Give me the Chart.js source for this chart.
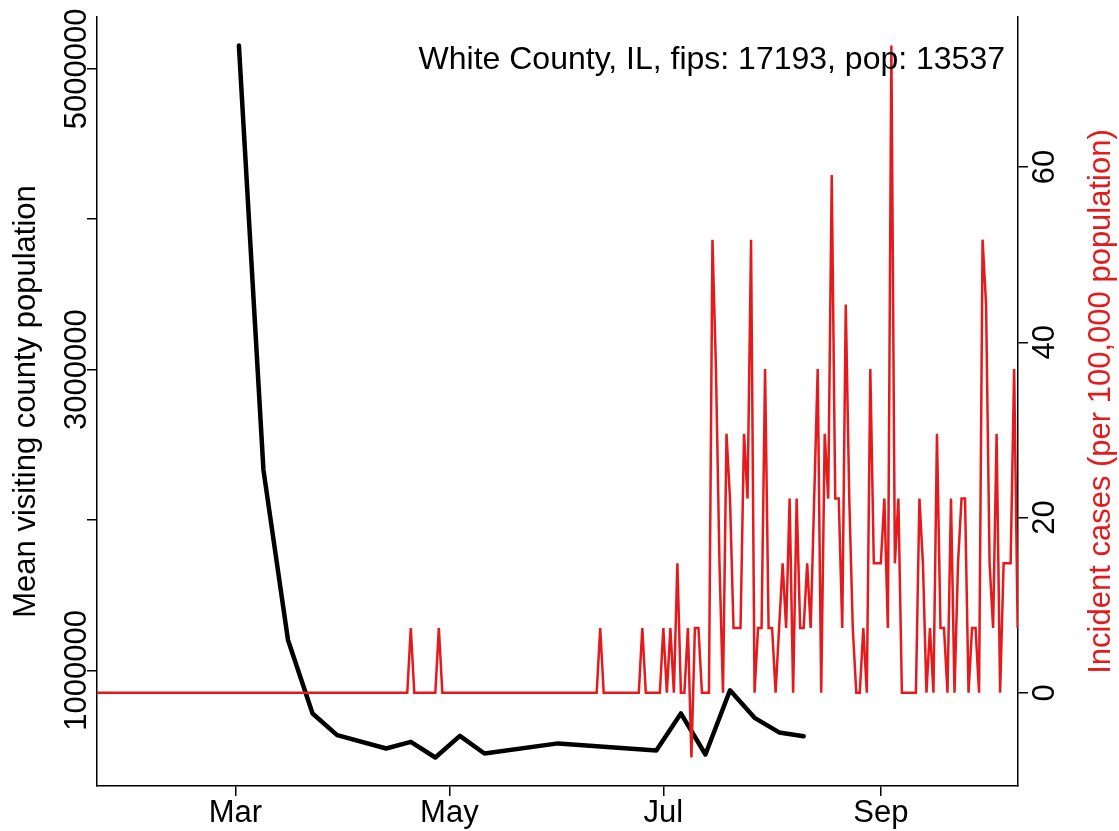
<!DOCTYPE html>
<html>
<head>
<meta charset="utf-8">
<script src="https://cdn.jsdelivr.net/npm/chart.js@4/dist/chart.umd.min.js"></script>
<style>
  html, body { margin: 0; padding: 0; background: #fff; }
  #wrap { width: 1119px; height: 831px; }
</style>
</head>
<body>
<div id="wrap"><canvas id="chart" width="1119" height="831"></canvas></div>
<script>
// county info
const countyTitle = 'White County, IL, fips: 17193, pop: 13537';
const countyPop = 13537;

// weekly mean visiting county population (day of year 2020)
const mobilityDays = [61, 68, 75, 82, 89, 103, 110, 117, 124, 131, 152, 180, 187, 194, 201, 208, 215, 222];
const mobilityValues = [5155000, 2332000, 1201000, 713000, 569000, 480000, 524000, 420000, 564000,
  447000, 514000, 467000, 713000, 440000, 867000, 684000, 587000, 562000];

// daily new cases, one value per day starting at caseStartDay
const caseStartDay = 20;
const dailyCases = [
  0,0,0,0,0,0,0,0,0,0, 0,0,0,0,0,0,0,0,0,0,   // 20-39
  0,0,0,0,0,0,0,0,0,0, 0,0,0,0,0,0,0,0,0,0,   // 40-59
  0,0,0,0,0,0,0,0,0,0, 0,0,0,0,0,0,0,0,0,0,   // 60-79
  0,0,0,0,0,0,0,0,0,0, 0,0,0,0,0,0,0,0,0,0,   // 80-99
  0,0,0,0,0,0,0,0,0,0, 1,0,0,0,0,0,0,0,1,0,   // 100-119
  0,0,0,0,0,0,0,0,0,0, 0,0,0,0,0,0,0,0,0,0,   // 120-139
  0,0,0,0,0,0,0,0,0,0, 0,0,0,0,0,0,0,0,0,0,   // 140-159
  0,0,0,0,1,0,0,0,0,0, 0,0,0,0,0,0,1,0,0,0,   // 160-179
  0,0,1,0,1,0,2,0,0,1, -1,1,1,0,0,0,7,5,2,0,  // 180-199
  4,3,1,1,1,4,3,7,0,1, 1,5,1,1,0,1,2,1,3,0,   // 200-219
  3,1,1,2,1,3,5,0,4,3, 8,3,3,1,6,3,1,0,0,1,   // 220-239
  0,5,2,2,2,3,1,10,2,3, 0,0,0,0,0,3,2,0,1,0,  // 240-259
  4,1,1,0,3,0,2,3,3,0, 1,1,0,7,6,2,1,4,0,2,   // 260-279
  2,2,5,1                                     // 280-283
];

// axes
const xMin = 20.55, xMax = 283.1;
const monthTickDays = [60, 121, 182, 244];
const monthTickLabels = ['Mar', 'May', 'Jul', 'Sep'];
const leftTicks = [1000000, 2000000, 3000000, 4000000, 5000000];
const leftTickLabels = ['1000000', '', '3000000', '', '5000000'];
const rightTicks = [0, 20, 40, 60];
const rightTickLabels = ['0', '20', '40', '60'];
const leftTitle = 'Mean visiting county population';
const rightTitle = 'Incident cases (per 100,000 population)';

const RED = '#E41A1C';
const FONT = '31px "Liberation Sans", Arial, Helvetica, sans-serif';
const TITLE_FONT = '32px "Liberation Sans", Arial, Helvetica, sans-serif';

const incidence = dailyCases.map(c => c * 100000 / countyPop);
const casePoints = incidence.map((v, i) => ({ x: caseStartDay + i, y: v }));
const mobilityPoints = mobilityDays.map((d, i) => ({ x: d, y: mobilityValues[i] }));

// R style 4% padding
function padRange(vals) {
  const lo = Math.min(...vals), hi = Math.max(...vals), d = (hi - lo) * 0.04;
  return [lo - d, hi + d];
}
const leftRange = padRange(mobilityValues);
const rightRange = padRange(incidence);

const textPlugin = {
  id: 'rtext',
  afterDraw(chart) {
    const ctx = chart.ctx;
    const xs = chart.scales.x, yl = chart.scales.yL, yr = chart.scales.yR;
    ctx.save();
    ctx.font = FONT;
    ctx.fillStyle = '#000';
    // x tick labels
    ctx.textAlign = 'center';
    ctx.textBaseline = 'alphabetic';
    monthTickDays.forEach((d, i) => ctx.fillText(monthTickLabels[i], xs.getPixelForValue(d), 822));
    // title
    ctx.font = TITLE_FONT;
    ctx.textAlign = 'right';
    ctx.fillText(countyTitle, 1005, 69);
    ctx.font = FONT;
    // rotated labels
    const vtext = (txt, x, y, color) => {
      ctx.save();
      ctx.translate(x, y);
      ctx.rotate(-Math.PI / 2);
      ctx.textAlign = 'center';
      ctx.textBaseline = 'alphabetic';
      ctx.fillStyle = color;
      ctx.fillText(txt, 0, 0);
      ctx.restore();
    };
    leftTicks.forEach((v, i) => { if (leftTickLabels[i]) vtext(leftTickLabels[i], 86, yl.getPixelForValue(v), '#000'); });
    rightTicks.forEach((v, i) => vtext(rightTickLabels[i], 1054, yr.getPixelForValue(v), '#000'));
    const midY = (chart.chartArea.top + chart.chartArea.bottom) / 2;
    vtext(leftTitle, 35, midY, '#000');
    vtext(rightTitle, 1110, midY, RED);
    ctx.restore();
  }
};

const axisBorder = { display: true, color: '#000', width: 1.5 };
const axisGrid = { drawOnChartArea: false, drawTicks: true, tickLength: 10, color: '#000', lineWidth: 1.5 };

new Chart(document.getElementById('chart').getContext('2d'), {
  type: 'line',
  data: {
    datasets: [
      { label: 'cases', data: casePoints, yAxisID: 'yR', borderColor: RED, borderWidth: 2.5,
        pointRadius: 0, tension: 0, fill: false, clip: 0 },
      { label: 'mobility', data: mobilityPoints, yAxisID: 'yL', borderColor: '#000', borderWidth: 4.5,
        pointRadius: 0, tension: 0, fill: false, clip: 0, borderJoinStyle: 'round', borderCapStyle: 'round' }
    ]
  },
  options: {
    responsive: false,
    animation: false,
    events: [],
    layout: { padding: { top: 17, left: 0, right: 0, bottom: 0 } },
    plugins: { legend: { display: false }, tooltip: { enabled: false } },
    scales: {
      x: {
        type: 'linear', position: 'bottom', min: xMin, max: xMax,
        afterBuildTicks: s => { s.ticks = monthTickDays.map(v => ({ value: v })); },
        afterFit: s => { s.height = 45; },
        ticks: { display: false },
        grid: axisGrid, border: axisBorder
      },
      yL: {
        type: 'linear', position: 'left', min: leftRange[0], max: leftRange[1],
        afterBuildTicks: s => { s.ticks = leftTicks.map(v => ({ value: v })); },
        afterFit: s => { s.width = 97; },
        ticks: { display: false },
        grid: axisGrid, border: axisBorder
      },
      yR: {
        type: 'linear', position: 'right', min: rightRange[0], max: rightRange[1],
        afterBuildTicks: s => { s.ticks = rightTicks.map(v => ({ value: v })); },
        afterFit: s => { s.width = 101; },
        ticks: { display: false },
        grid: axisGrid, border: axisBorder
      }
    }
  },
  plugins: [textPlugin]
});
</script>
</body>
</html>
